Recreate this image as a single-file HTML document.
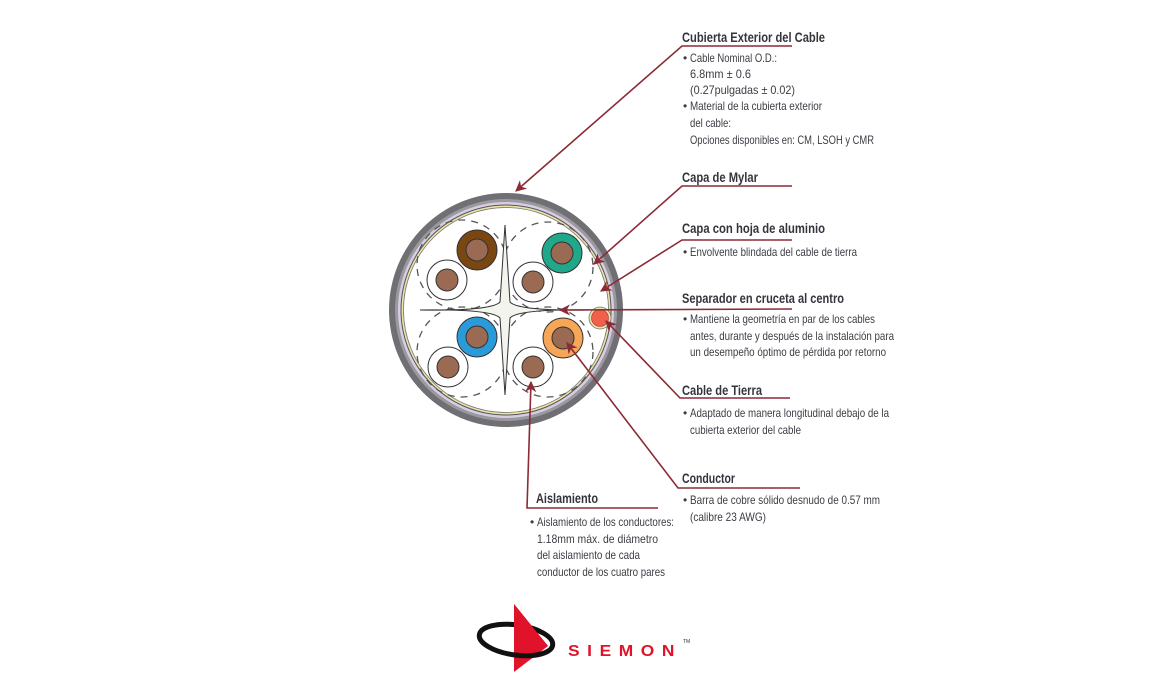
<!DOCTYPE html>
<html><head><meta charset="utf-8"><style>
html,body{margin:0;padding:0;background:#fff;width:1153px;height:673px;overflow:hidden}
svg{display:block}
.t{font-family:"Liberation Sans",sans-serif;font-weight:bold;font-size:14px;fill:#34343c}
.b{font-family:"Liberation Sans",sans-serif;font-size:12px;fill:#3c3c44}
.l{stroke:#8c2a35;stroke-width:1.6;fill:none}
</style></head><body>
<svg width="1153" height="673" viewBox="0 0 1153 673" xmlns="http://www.w3.org/2000/svg">
<defs>
<marker id="a" viewBox="0 0 10 10" refX="9" refY="5" markerWidth="7" markerHeight="7" orient="auto-start-reverse">
<path d="M0,0 L10,5 L0,10 L3,5 z" fill="#8c2a35"/></marker>
</defs>
<!-- cable -->
<circle cx="506" cy="310" r="117" fill="#6f6f74"/>
<circle cx="506" cy="310" r="111" fill="#9a9a9e"/>
<circle cx="506" cy="310" r="108" fill="#d9cde6"/>
<circle cx="506" cy="310" r="105.5" fill="#555"/>
<circle cx="506" cy="310" r="104.5" fill="#e9e3a6"/>
<circle cx="506" cy="310" r="102.5" fill="#fff" stroke="#777" stroke-width="0.8"/>
<!-- ground notch -->
<circle cx="600" cy="318" r="11" fill="#e9e3a6" stroke="#777" stroke-width="0.8"/>
<circle cx="600" cy="318" r="8.5" fill="#f0604a" stroke="#a33" stroke-width="0.6"/>
<!-- dashed pair outlines -->
<g fill="none" stroke="#555" stroke-width="1.3" stroke-dasharray="7,6">
<circle cx="462" cy="265" r="45"/>
<circle cx="548" cy="267" r="45"/>
<circle cx="462" cy="352" r="45"/>
<circle cx="548" cy="352" r="45"/>
</g>
<!-- cross separator -->
<path d="M420,310 Q492,311 500,302 L505,225 L510,302 Q518,311 590,310 Q518,309 510,318 L505,395 L500,318 Q492,309 420,310z" fill="#f4f4ee" stroke="#333" stroke-width="1"/>
<!-- pairs -->
<g stroke="#333" stroke-width="1">
<circle cx="447" cy="280" r="20" fill="#fff"/><circle cx="447" cy="280" r="11" fill="#9b6a52"/>
<circle cx="477" cy="250" r="20" fill="#7a4612"/><circle cx="477" cy="250" r="11" fill="#9b6a52"/>
<circle cx="533" cy="282" r="20" fill="#fff"/><circle cx="533" cy="282" r="11" fill="#9b6a52"/>
<circle cx="562" cy="253" r="20" fill="#1fa88a"/><circle cx="562" cy="253" r="11" fill="#9b6a52"/>
<circle cx="448" cy="367" r="20" fill="#fff"/><circle cx="448" cy="367" r="11" fill="#9b6a52"/>
<circle cx="477" cy="337" r="20" fill="#2a9ad8"/><circle cx="477" cy="337" r="11" fill="#9b6a52"/>
<circle cx="533" cy="367" r="20" fill="#fff"/><circle cx="533" cy="367" r="11" fill="#9b6a52"/>
<circle cx="563" cy="338" r="20" fill="#f7a556"/><circle cx="563" cy="338" r="11" fill="#9b6a52"/>
</g>
<!-- leaders -->
<path class="l" d="M792,46 L682,46 L516,191" marker-end="url(#a)"/>
<path class="l" d="M792,186 L682,186 L594,264" marker-end="url(#a)"/>
<path class="l" d="M792,240 L682,240 L601,291" marker-end="url(#a)"/>
<path class="l" d="M792,309 L560,310" marker-end="url(#a)"/>
<path class="l" d="M790,398 L680,398 L606,321" marker-end="url(#a)"/>
<path class="l" d="M800,488 L678,488 L567,343" marker-end="url(#a)"/>
<path class="l" d="M658,508 L527,508 L531,382" marker-end="url(#a)"/>
<!-- texts -->
<text class="t" x="682" y="42" textLength="143" lengthAdjust="spacingAndGlyphs">Cubierta Exterior del Cable</text>
<text class="b" x="683" y="62">•</text>
<text class="b" x="690" y="62" textLength="87" lengthAdjust="spacingAndGlyphs">Cable Nominal O.D.:</text>
<text class="b" x="690" y="78" textLength="61" lengthAdjust="spacingAndGlyphs">6.8mm ± 0.6</text>
<text class="b" x="690" y="94" textLength="105" lengthAdjust="spacingAndGlyphs">(0.27pulgadas ± 0.02)</text>
<text class="b" x="683" y="110">•</text>
<text class="b" x="690" y="110" textLength="132" lengthAdjust="spacingAndGlyphs">Material de la cubierta exterior</text>
<text class="b" x="690" y="127" textLength="41" lengthAdjust="spacingAndGlyphs">del cable:</text>
<text class="b" x="690" y="144" textLength="184" lengthAdjust="spacingAndGlyphs">Opciones disponibles en: CM, LSOH y CMR</text>
<text class="t" x="682" y="182" textLength="76" lengthAdjust="spacingAndGlyphs">Capa de Mylar</text>
<text class="t" x="682" y="233" textLength="143" lengthAdjust="spacingAndGlyphs">Capa con hoja de aluminio</text>
<text class="b" x="683" y="256">•</text>
<text class="b" x="690" y="256" textLength="167" lengthAdjust="spacingAndGlyphs">Envolvente blindada del cable de tierra</text>
<text class="t" x="682" y="303" textLength="162" lengthAdjust="spacingAndGlyphs">Separador en cruceta al centro</text>
<text class="b" x="683" y="323">•</text>
<text class="b" x="690" y="323" textLength="185" lengthAdjust="spacingAndGlyphs">Mantiene la geometría en par de los cables</text>
<text class="b" x="690" y="340" textLength="204" lengthAdjust="spacingAndGlyphs">antes, durante y después de la instalación para</text>
<text class="b" x="690" y="356" textLength="196" lengthAdjust="spacingAndGlyphs">un desempeño óptimo de pérdida por retorno</text>
<text class="t" x="682" y="395" textLength="80" lengthAdjust="spacingAndGlyphs">Cable de Tierra</text>
<text class="b" x="683" y="417">•</text>
<text class="b" x="690" y="417" textLength="199" lengthAdjust="spacingAndGlyphs">Adaptado de manera longitudinal debajo de la</text>
<text class="b" x="690" y="434" textLength="111" lengthAdjust="spacingAndGlyphs">cubierta exterior del cable</text>
<text class="t" x="682" y="483" textLength="53" lengthAdjust="spacingAndGlyphs">Conductor</text>
<text class="b" x="683" y="504">•</text>
<text class="b" x="690" y="504" textLength="190" lengthAdjust="spacingAndGlyphs">Barra de cobre sólido desnudo de 0.57 mm</text>
<text class="b" x="690" y="521" textLength="76" lengthAdjust="spacingAndGlyphs">(calibre 23 AWG)</text>
<text class="t" x="536" y="503" textLength="62" lengthAdjust="spacingAndGlyphs">Aislamiento</text>
<text class="b" x="530" y="526">•</text>
<text class="b" x="537" y="526" textLength="137" lengthAdjust="spacingAndGlyphs">Aislamiento de los conductores:</text>
<text class="b" x="537" y="543" textLength="121" lengthAdjust="spacingAndGlyphs">1.18mm máx. de diámetro</text>
<text class="b" x="537" y="559" textLength="103" lengthAdjust="spacingAndGlyphs">del aislamiento de cada</text>
<text class="b" x="537" y="576" textLength="128" lengthAdjust="spacingAndGlyphs">conductor de los cuatro pares</text>
<!-- logo -->
<polygon points="514,604 548,646 514,672" fill="#e0132a"/>
<ellipse cx="516" cy="640" rx="37" ry="15" fill="none" stroke="#111" stroke-width="5" transform="rotate(8 516 640)"/>
<polygon points="514,604 548,646 514,640" fill="#e0132a"/>
<text x="568" y="656" font-family="Liberation Sans,sans-serif" font-weight="bold" font-size="16" fill="#e0132a" textLength="114" lengthAdjust="spacingAndGlyphs" letter-spacing="7">SIEMON</text>
<text x="683" y="643" font-family="Liberation Sans,sans-serif" font-size="5" fill="#333">TM</text>
</svg>
</body></html>
